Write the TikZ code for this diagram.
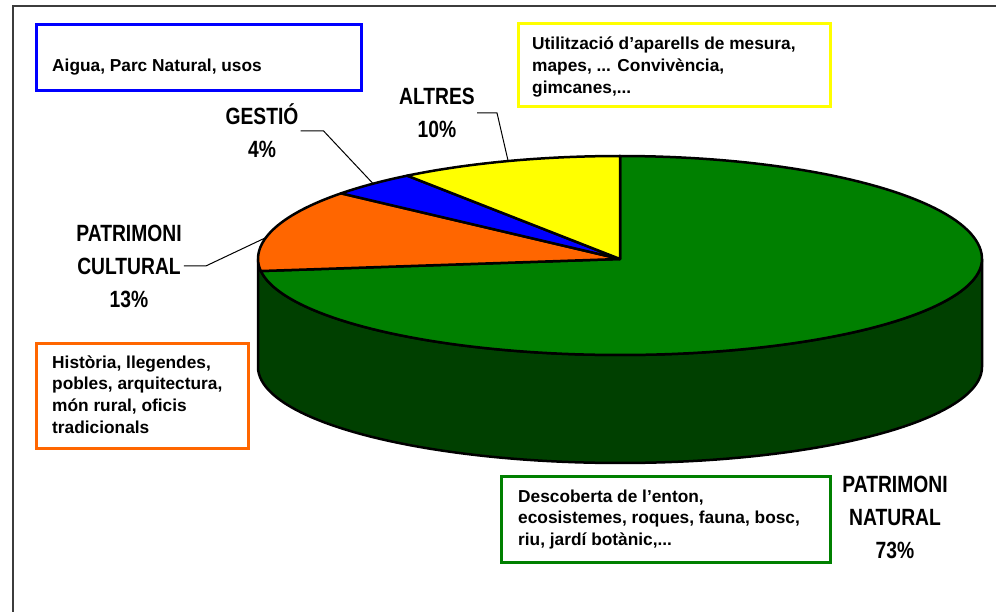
\documentclass[tikz,border=0pt]{standalone}
\usepackage{fontspec}
\setmainfont{Liberation Sans}
\newfontfamily\labfont[FakeStretch=0.82]{Liberation Sans}
\definecolor{pgreen}{RGB}{0,128,0}
\definecolor{sidegreen}{RGB}{0,64,0}
\definecolor{porange}{RGB}{255,102,0}
\definecolor{pblue}{RGB}{0,0,255}
\definecolor{pyellow}{RGB}{255,255,0}
\definecolor{framegray}{RGB}{60,60,60}
\pgfmathdeclarefunction{piex}{1}{\pgfmathparse{620+362*cos(#1)}}
\pgfmathdeclarefunction{piey}{1}{\pgfmathparse{259-(96+7*(sin(#1)>0))*sin(#1)}}
\tikzset{
  pie/.style={draw=black, line width=2.5pt, line join=round},
  leader/.style={draw=black, line width=1pt},
  tbox/.style={line width=3pt, inner sep=0pt, anchor=north west},
  btext/.style={font=\bfseries\fontsize{17.3}{21.7}\selectfont, align=left, anchor=base west, inner sep=0pt},
  plabel/.style={font=\labfont\bfseries\fontsize{23.5}{33}\selectfont, align=center, inner sep=2pt},
}
\begin{document}
\begin{tikzpicture}[x=1pt,y=-1pt]
\useasboundingbox (0,0) rectangle (996,612);
\draw[framegray, line width=1.5pt] (13,613) -- (13,6) -- (997,6);
\coordinate (C) at (620,259);
% side of the pie
\filldraw[pie, fill=sidegreen] plot[domain=180:360, samples=90] ({piex(\x)},{piey(\x)})
  -- plot[domain=360:180, samples=90] ({piex(\x)},{piey(\x)+108}) -- cycle;
% top slices
\filldraw[pie, fill=pgreen] (C) -- plot[domain=187.2:450, samples=140] ({piex(\x)},{piey(\x)}) -- cycle;
\filldraw[pie, fill=porange] (C) -- plot[domain=140.4:187.2, samples=40] ({piex(\x)},{piey(\x)}) -- cycle;
\filldraw[pie, fill=pblue] (C) -- plot[domain=126:140.4, samples=20] ({piex(\x)},{piey(\x)}) -- cycle;
\filldraw[pie, fill=pyellow] (C) -- plot[domain=90:126, samples=30] ({piex(\x)},{piey(\x)}) -- cycle;
% leader end points
\coordinate (gEnd) at ({piex(133)},{piey(133)});
\coordinate (aEnd) at ({piex(108)},{piey(108)});
\coordinate (cEnd) at ({piex(168)},{piey(168)});
% labels
\node[plabel] (gestio) at (262,131) {GESTIÓ\\4\%};
\node[plabel] (altres) at (437,113) {ALTRES\\10\%};
\node[plabel] (pcult) at (129,266) {PATRIMONI\\CULTURAL\\13\%};
\node[plabel] (pnat) at (895,517) {PATRIMONI\\NATURAL\\73\%};
\draw[leader] (gestio.east) -- ++(23,0) -- (gEnd);
\draw[leader] (altres.east) -- ++(20,0) -- (aEnd);
\draw[leader] (pcult.east) -- ++(22,0) -- (cEnd);
% boxes
\node[tbox, draw=pblue, minimum width=325pt, minimum height=66pt] (bluebox) at (34.5,23.5) {};
\node[tbox, draw=pyellow, minimum width=312pt, minimum height=83pt] (yellowbox) at (516.5,22.5) {};
\node[tbox, draw=porange, minimum width=212pt, minimum height=105pt] (orangebox) at (34.5,341.5) {};
\node[tbox, draw=pgreen, minimum width=329pt, minimum height=86pt] (greenbox) at (499.5,474.5) {};
% box texts (base anchor = baseline of last line)
\node[btext] (bluetext) at (52,72) {Aigua, Parc Natural, usos};
\node[btext] (yellowtext) at (532,93.4) {Utilització d’aparells de mesura,\\mapes, ... Convivència,\\gimcanes,...};
\node[btext] (orangetext) at (52,433.1) {Història, llegendes,\\pobles, arquitectura,\\món rural, oficis\\tradicionals};
\node[btext] (greentext) at (518,545.4) {Descoberta de l’enton,\\ecosistemes, roques, fauna, bosc,\\riu, jardí botànic,...};
\end{tikzpicture}
\end{document}
